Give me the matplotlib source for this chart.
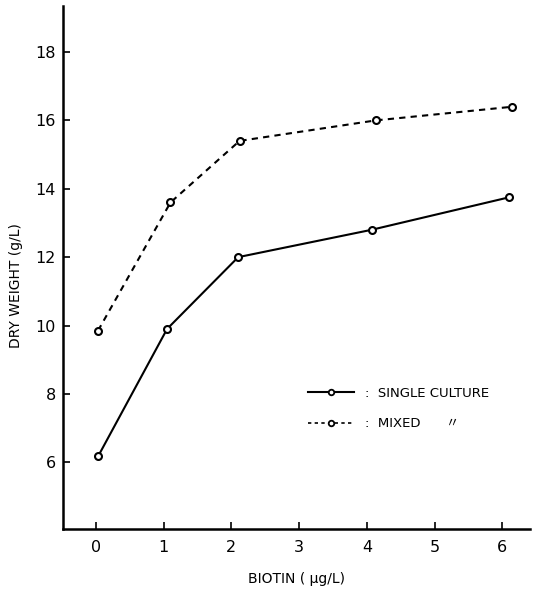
import matplotlib.pyplot as plt
from matplotlib.lines import Line2D
from matplotlib.font_manager import FontProperties

# biotin (ug/L) vs dry weight (g/L)
biotin_single = [0.03, 1.05, 2.1, 4.07, 6.1]
weight_single = [6.17, 9.9, 12.0, 12.8, 13.75]
biotin_mixed = [0.03, 1.1, 2.12, 4.13, 6.15]
weight_mixed = [9.85, 13.6, 15.4, 16.0, 16.4]

x_ticks = [0, 1, 2, 3, 4, 5, 6]
y_ticks = [6, 8, 10, 12, 14, 16, 18]
legend_labels = [':  SINGLE CULTURE', ':  MIXED      〃']

fig = plt.figure(figsize=(5.37, 5.89), dpi=100)
ax = fig.add_axes([0.117, 0.102, 0.87, 0.888])

ax.plot(biotin_single, weight_single, color='black', lw=1.5,
        marker='o', ms=5, mfc='white', mec='black', mew=1.5)
ax.plot(biotin_mixed, weight_mixed, color='black', lw=1.5, dashes=(3, 2.5),
        marker='o', ms=5, mfc='white', mec='black', mew=1.5)

ax.set_xlim(-0.49, 6.41)
ax.set_ylim(4.05, 19.35)
ax.set_xticks(x_ticks)
ax.set_yticks(y_ticks)
ax.tick_params(direction='in', length=5, width=1.2, labelsize=11.5)
ax.tick_params(axis='y', pad=5)
ax.tick_params(axis='x', pad=8)

for s in ['top', 'right']:
    ax.spines[s].set_visible(False)
for s in ['left', 'bottom']:
    ax.spines[s].set_linewidth(1.8)

ax.set_xlabel('BIOTIN ( μg/L)', fontsize=10, labelpad=12)
ax.set_ylabel('DRY WEIGHT (g/L)', fontsize=10)
ax.yaxis.set_label_coords(-0.085, 0.465)

handles = [
    Line2D([], [], color='black', lw=1.5, marker='o', ms=4, mfc='white', mew=1.3),
    Line2D([], [], color='black', lw=1.2, dashes=(2, 2), marker='o', ms=4, mfc='white', mew=1.3),
]
ax.legend(handles, legend_labels,
          loc='center left', bbox_to_anchor=(0.5, 0.23), frameon=False,
          prop=FontProperties(family=['DejaVu Sans', 'Noto Sans CJK JP'], size=9.5),
          handlelength=3.5, labelspacing=1.3)

fig.savefig('out.png')
